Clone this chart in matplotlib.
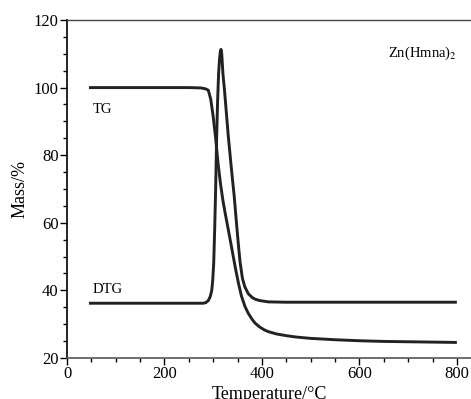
import matplotlib
matplotlib.use("Agg")
import matplotlib.pyplot as plt
from matplotlib.ticker import MultipleLocator

# TG curve (mass %)
tg_x = [45, 150, 250, 275, 285, 290, 295, 300, 305, 310, 315, 320, 325, 331, 338,
        345, 352, 358, 365, 372, 380, 386, 395, 405, 413, 430, 450, 470, 500, 550,
        600, 650, 700, 750, 800]
tg_y = [100, 100, 100, 99.9, 99.6, 99.2, 96.5, 91.4, 85.0, 77.5, 71.5, 66.5, 62.5, 57.9, 52.5,
        47.0, 42.0, 38.3, 35.3, 33.2, 31.4, 30.3, 29.2, 28.3, 27.8, 27.1, 26.6, 26.2, 25.8, 25.4,
        25.1, 24.9, 24.8, 24.7, 24.6]

# DTG curve (scaled onto the same axis)
dtg_x = [45, 150, 250, 280, 285, 290, 294, 297, 299, 301, 303, 305, 307, 309, 311, 313,
         314.5, 316, 317.5, 320, 323, 327, 331, 338, 343, 348, 352, 355, 360, 365, 372,
         380, 386, 395, 413, 450, 600, 800]
dtg_y = [36.2, 36.2, 36.2, 36.2, 36.4, 37.0, 38.2, 40.0, 43, 48, 58, 70, 85, 96, 104, 108.5,
         110.5, 111.3, 110, 104, 99.5, 92.5, 85.5, 75, 68, 59.5, 53, 48.5, 43.5, 41, 39,
         37.9, 37.4, 37.0, 36.6, 36.5, 36.5, 36.5]

plt.rcParams["font.family"] = ["Liberation Serif", "DejaVu Serif"]
plt.rcParams["mathtext.fontset"] = "stix"

fig = plt.figure(figsize=(4.71, 3.99), dpi=100)
ax = fig.add_axes([0.1423, 0.1028, 0.8577, 0.8471])

ax.plot(tg_x, tg_y, color="#222222", lw=2.1, solid_capstyle="butt")
ax.plot(dtg_x, dtg_y, color="#222222", lw=2.1, solid_capstyle="butt")

ax.set_xlim(0, 829)
ax.set_ylim(20, 120)
ax.xaxis.set_major_locator(MultipleLocator(200))
ax.xaxis.set_minor_locator(MultipleLocator(50))
ax.yaxis.set_major_locator(MultipleLocator(20))
ax.yaxis.set_minor_locator(MultipleLocator(5))
ax.tick_params(which="major", direction="out", length=5, width=1, labelsize=12, pad=1)
ax.tick_params(which="minor", direction="out", length=3, width=1)

ax.spines["right"].set_visible(False)
ax.spines["top"].set_color("#444444")
ax.spines["top"].set_linewidth(1.0)
ax.spines["left"].set_linewidth(1.2)
ax.spines["bottom"].set_linewidth(1.2)
ax.spines["bottom"].set_color("#555555")

ax.set_xlabel("Temperature/°C", fontsize=13, labelpad=3)
ax.set_ylabel("Mass/%", fontsize=13, labelpad=4)

ax.text(53, 93.4, "TG", fontsize=10.5, va="center", ha="left")
ax.text(53, 40.4, "DTG", fontsize=10.5, va="center", ha="left")
ax.text(658, 110.2, r"Zn(Hmna)$_2$", fontsize=10.5, va="center", ha="left")

fig.savefig("out.png", dpi=100)
